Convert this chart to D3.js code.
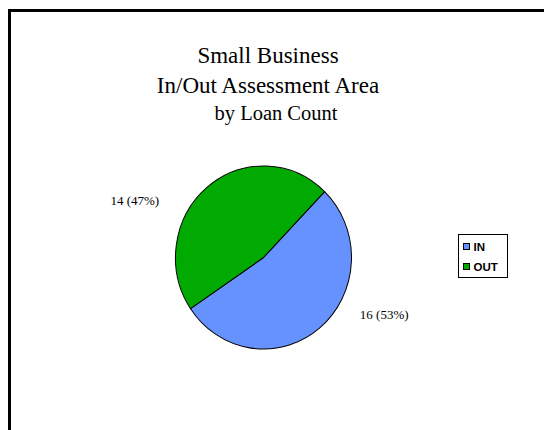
<!DOCTYPE html>
<html>
<head>
<meta charset="utf-8">
<script src="https://cdn.jsdelivr.net/npm/d3@7"></script>
<style>
  html, body { margin: 0; padding: 0; background: #fff; }
  svg { display: block; }
</style>
</head>
<body>
<svg id="chart" width="544" height="430"></svg>
<script>
// Loan counts inside / outside the assessment area
const categories = ["IN", "OUT"];
const values = [16, 14];
const colors = ["#6692FF", "#00AA00"];
const titleLines = ["Small Business", "In/Out Assessment Area"];
const subtitle = "by Loan Count";

const svg = d3.select("#chart");
const W = 544, H = 430;
const serif = "'Liberation Serif', 'Times New Roman', serif";

// Outer frame (left and top edges visible)
svg.append("path")
  .attr("d", `M9.5,${H + 5} L9.5,10.5 L${W + 5},10.5`)
  .attr("fill", "none")
  .attr("stroke", "#000")
  .attr("stroke-width", 3);

// Titles
const titleG = svg.append("g").attr("font-family", serif)
  .attr("fill", "#000").attr("text-anchor", "middle");
titleLines.forEach((t, i) => {
  titleG.append("text").attr("x", 268).attr("y", 63 + i * 30)
    .attr("font-size", 23).text(t);
});
titleG.append("text").attr("x", 276).attr("y", 120)
  .attr("font-size", 20.5).text(subtitle);

// Pie
const cx = 263.5, cy = 257.5, r = 88, sy = 1.04;
const total = d3.sum(values);
const start = 44 * Math.PI / 180;
const pie = d3.pie().sort(null).startAngle(start).endAngle(start + 2 * Math.PI);
const pieData = pie(values);
const arc = d3.arc().innerRadius(0).outerRadius(r);

const pieG = svg.append("g").attr("transform", `translate(${cx},${cy}) scale(1,${sy})`);
pieG.selectAll("path.slice")
  .data(pieData)
  .join("path")
  .attr("class", "slice")
  .attr("d", arc)
  .attr("fill", (d, i) => colors[i])
  .attr("stroke", "#000")
  .attr("stroke-width", 1)
  .attr("stroke-linejoin", "round");

// Value labels placed along each slice's mid angle
const lrx = 194, lry = 75;
svg.append("g")
  .attr("font-family", serif)
  .attr("font-size", 13)
  .attr("fill", "#000")
  .attr("text-anchor", "middle")
  .selectAll("text")
  .data(pieData)
  .join("text")
  .attr("x", d => cx - 4 + lrx * Math.sin((d.startAngle + d.endAngle) / 2))
  .attr("y", d => cy - lry * Math.cos((d.startAngle + d.endAngle) / 2) + 4.5)
  .text(d => `${d.value} (${Math.round(d.value / total * 100)}%)`);

// Legend
const lg = svg.append("g").attr("transform", "translate(458.5,234.5)");
lg.append("rect").attr("width", 49).attr("height", 43)
  .attr("fill", "#fff").attr("stroke", "#000").attr("stroke-width", 1);
categories.forEach((c, i) => {
  const row = lg.append("g").attr("transform", `translate(5,${9 + i * 20})`);
  row.append("rect").attr("width", 6).attr("height", 6)
    .attr("fill", colors[i]).attr("stroke", "#000").attr("stroke-width", 1);
  row.append("text").attr("x", 10).attr("y", 7.5)
    .attr("font-family", "'Liberation Sans', Arial, sans-serif")
    .attr("font-weight", "bold").attr("font-size", 11.5)
    .attr("fill", "#000").text(c);
});
</script>
</body>
</html>
